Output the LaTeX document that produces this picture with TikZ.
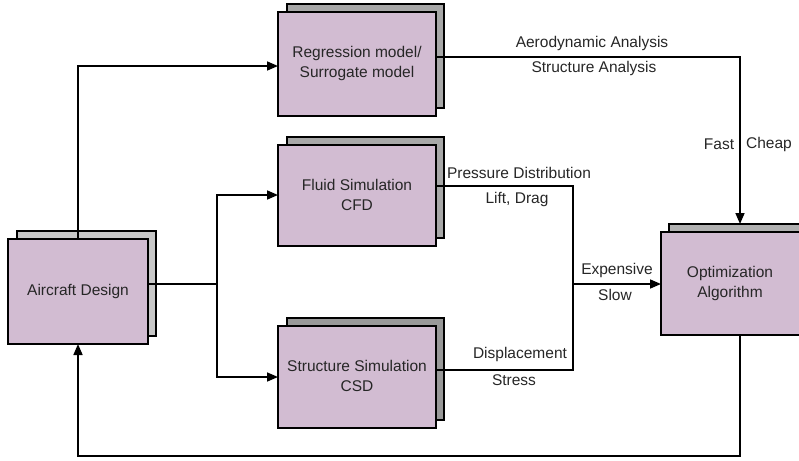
\documentclass[tikz,border=0pt]{standalone}
\usepackage{fontspec}
\setmainfont{Liberation Sans}
\usetikzlibrary{arrows.meta}
\definecolor{boxfill}{HTML}{D2BCD2}
\begin{document}
\begin{tikzpicture}[x=1pt,y=-1pt,
  line width=1.6pt,
  frontbox/.style={draw=black,fill=boxfill,line width=2pt},
  backbox/.style={draw=black,line width=2pt},
  lbl/.style={font=\fontsize{15.5pt}{20pt}\selectfont,inner sep=0pt,text=black!85},
  conn/.style={draw=black,line width=1.6pt},
  arr/.style={conn,-{Triangle[length=11pt,width=9pt]}}]
\useasboundingbox (0,0) rectangle (799,460);

% stacked boxes: back sheet first, then the front sheet with its label
\draw[backbox,fill=black!22] (17,231) rectangle (156,336);
\draw[frontbox] (8,239) rectangle (148,344);
\node[lbl] (ad) at (78,291.5) {Aircraft Design};
\coordinate (adT) at (78,239);
\coordinate (adB) at (78,344);
\coordinate (adR) at (148,284);

\draw[backbox,fill=black!34] (287,4) rectangle (444,108);
\draw[frontbox] (278,12) rectangle (436,116);
\node[lbl,align=center] (reg) at (357,63) {Regression model/\\Surrogate model};
\coordinate (regL) at (278,66);
\coordinate (regR) at (436,57);

\draw[backbox,fill=black!34] (287,137) rectangle (444,238);
\draw[frontbox] (278,145) rectangle (436,246);
\node[lbl,align=center] (cfd) at (357,195) {Fluid Simulation\\CFD};
\coordinate (cfdL) at (278,195);
\coordinate (cfdR) at (436,186);

\draw[backbox,fill=black!40] (287,318) rectangle (444,420);
\draw[frontbox] (278,326) rectangle (436,428);
\node[lbl,align=center] (csd) at (357,376) {Structure Simulation\\CSD};
\coordinate (csdL) at (278,377);
\coordinate (csdR) at (436,370);

\draw[backbox,fill=black!31] (669,224) rectangle (812,327);
\draw[frontbox] (661,232) rectangle (804,335);
\node[lbl,align=center] (opt) at (730,283) {Optimization\\Algorithm};
\coordinate (optT) at (740,224);
\coordinate (optL) at (661,284);
\coordinate (optB) at (740,335);

% junction points of the connectors
\coordinate (split) at (217,284);
\coordinate (merge) at (573,284);
\coordinate (loop) at (78,456);

% connectors
\draw[arr] (adT) |- (regL);
\draw[conn] (adR) -- (split);
\draw[arr] (split) |- (cfdL);
\draw[arr] (split) |- (csdL);
\draw[arr] (regR) -| (optT);
\draw[conn] (cfdR) -| (merge);
\draw[conn] (csdR) -| (merge);
\draw[arr] (merge) -- (optL);
\draw[arr] (optB) |- (loop) -- (adB);

% connector labels
\node[lbl] (l1) at (592,43) {Aerodynamic Analysis};
\node[lbl] (l2) at (594,68) {Structure Analysis};
\node[lbl] (l3) at (719,144) {Fast};
\node[lbl] (l4) at (769,144) {Cheap};
\node[lbl] (l5) at (519,173) {Pressure Distribution};
\node[lbl] (l6) at (517,199) {Lift, Drag};
\node[lbl] (l7) at (617,270) {Expensive};
\node[lbl] (l8) at (615,295) {Slow};
\node[lbl] (l9) at (520,354) {Displacement};
\node[lbl] (l10) at (514,380) {Stress};
\end{tikzpicture}
\end{document}
